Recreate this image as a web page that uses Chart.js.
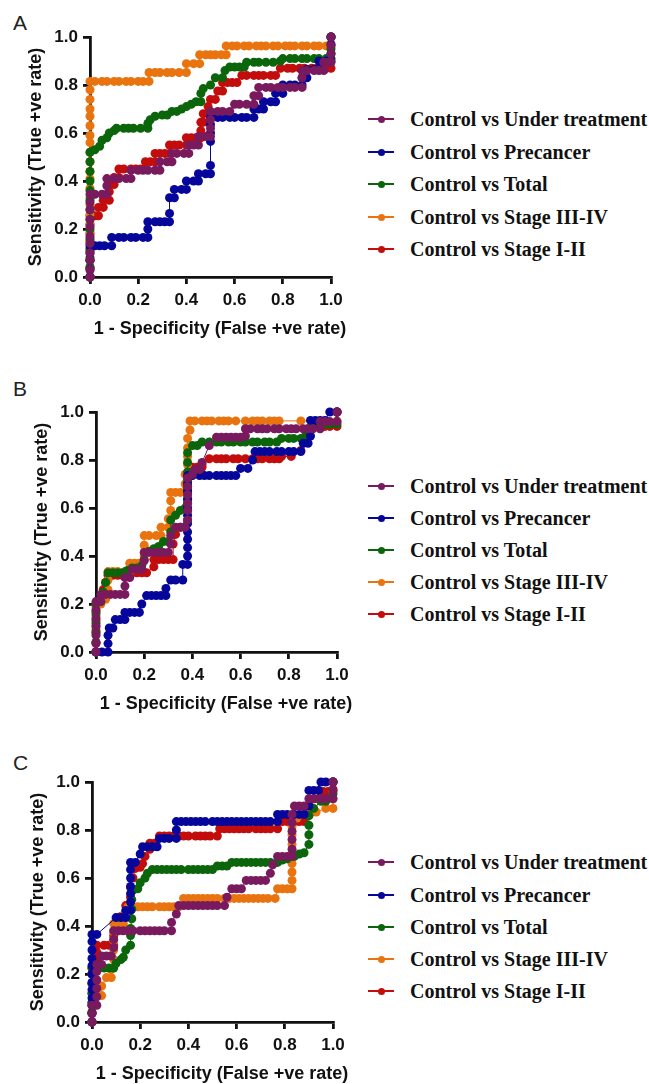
<!DOCTYPE html>
<html>
<head>
<meta charset="utf-8">
<script src="https://cdn.jsdelivr.net/npm/chart.js@4.4.0/dist/chart.umd.min.js"></script>
<style>
  html, body { margin: 0; padding: 0; background: #fff; }
  body { width: 649px; height: 1084px; position: relative; overflow: hidden; font-family: "Liberation Sans", Arial, sans-serif; }
  .panel { position: absolute; width: 345px; height: 320px; }
  .tag { position: absolute; font-size: 21px; color: #222; line-height: 1; }
  .xt, .yt { position: absolute; font-weight: bold; font-size: 18px; color: #111; white-space: nowrap; line-height: 1; }
  .xt { transform: translate(-50%, -50%); }
  .yt { transform: translate(-50%, -50%) rotate(-90deg); }
  .row { position: absolute; left: 368px; height: 24px; width: 280px; }
  .row .ln { position: absolute; left: 0; top: 11px; width: 26px; height: 1.5px; }
  .row .dt { position: absolute; left: 10px; top: 8.5px; width: 7px; height: 7px; border-radius: 50%; }
  .row .tx { position: absolute; left: 42px; top: 0; font-family: "Liberation Serif", "Times New Roman", serif; font-weight: bold; font-size: 20px; line-height: 24px; color: #111; white-space: nowrap; }
</style>
</head>
<body>

<div class="tag" style="left:13px;top:12px;">A</div>
<div class="tag" style="left:13px;top:378px;">B</div>
<div class="tag" style="left:13px;top:752px;">C</div>

<div class="panel" style="left:0px;top:0px;"><canvas id="chartA"></canvas></div>
<div class="panel" style="left:6px;top:375px;"><canvas id="chartB"></canvas></div>
<div class="panel" style="left:2px;top:745px;"><canvas id="chartC"></canvas></div>

<div class="yt" style="left:35px;top:157px;">Sensitivity (True +ve rate)</div>
<div class="xt" style="left:220px;top:328px;">1 - Specificity (False +ve rate)</div>
<div class="yt" style="left:41px;top:532px;">Sensitivity (True +ve rate)</div>
<div class="xt" style="left:226px;top:703px;">1 - Specificity (False +ve rate)</div>
<div class="yt" style="left:37px;top:902px;">Sensitivity (True +ve rate)</div>
<div class="xt" style="left:222px;top:1073px;">1 - Specificity (False +ve rate)</div>

<div id="legends"></div>

<script>
// nama seri dan warna (urutan sama dengan legenda)
const seriesNames = ['Control vs Under treatment', 'Control vs Precancer', 'Control vs Total', 'Control vs Stage III-IV', 'Control vs Stage I-II'];
const seriesColors = ['#7A1A5E', '#06069A', '#0B650B', '#E9740F', '#C30C0C'];
const axisTicks = [0, 0.2, 0.4, 0.6, 0.8, 1.0];

// ---- Panel A : [1 - specificity, sensitivity]
const underA = [[0,0],[0,0.03],[0,0.07],[0,0.1],[0,0.14],[0,0.17],[0,0.21],[0,0.24],[0,0.28],[0,0.31],[0,0.345],[0.02,0.345],[0.05,0.345],[0.07,0.345],[0.07,0.38],[0.07,0.41],[0.1,0.41],[0.12,0.41],[0.15,0.41],[0.17,0.41],[0.17,0.445],[0.2,0.445],[0.22,0.445],[0.24,0.445],[0.27,0.445],[0.29,0.445],[0.29,0.48],[0.32,0.48],[0.34,0.48],[0.34,0.515],[0.36,0.515],[0.39,0.515],[0.41,0.515],[0.41,0.55],[0.43,0.55],[0.45,0.55],[0.45,0.585],[0.48,0.585],[0.5,0.585],[0.5,0.62],[0.5,0.655],[0.5,0.69],[0.53,0.69],[0.55,0.69],[0.58,0.69],[0.6,0.72],[0.62,0.72],[0.65,0.72],[0.68,0.72],[0.68,0.755],[0.7,0.755],[0.7,0.79],[0.73,0.79],[0.75,0.79],[0.78,0.79],[0.8,0.79],[0.83,0.79],[0.85,0.79],[0.88,0.79],[0.88,0.83],[0.88,0.86],[0.9,0.86],[0.93,0.86],[0.95,0.86],[0.97,0.86],[0.97,0.895],[0.99,0.895],[1,0.895],[1,0.93],[1,0.965],[1,1]];
const preA = [[0,0],[0,0.03],[0,0.07],[0,0.1],[0,0.13],[0.02,0.13],[0.04,0.13],[0.06,0.13],[0.09,0.13],[0.09,0.165],[0.12,0.165],[0.14,0.165],[0.17,0.165],[0.19,0.165],[0.22,0.165],[0.24,0.165],[0.24,0.2],[0.24,0.23],[0.27,0.23],[0.29,0.23],[0.31,0.23],[0.33,0.23],[0.33,0.265],[0.33,0.33],[0.35,0.33],[0.35,0.365],[0.38,0.365],[0.4,0.365],[0.4,0.4],[0.43,0.4],[0.45,0.4],[0.45,0.43],[0.48,0.43],[0.5,0.43],[0.5,0.465],[0.5,0.565],[0.5,0.6],[0.5,0.635],[0.5,0.665],[0.53,0.665],[0.55,0.665],[0.58,0.665],[0.6,0.665],[0.63,0.665],[0.65,0.665],[0.68,0.665],[0.68,0.7],[0.7,0.7],[0.72,0.7],[0.72,0.73],[0.75,0.73],[0.77,0.73],[0.77,0.765],[0.8,0.765],[0.8,0.8],[0.83,0.8],[0.85,0.8],[0.88,0.8],[0.88,0.83],[0.9,0.83],[0.9,0.865],[0.93,0.865],[0.95,0.865],[0.95,0.9],[0.98,0.9],[1,0.9],[1,0.93],[1,0.97],[1,1]];
const totalA = [[0,0],[0,0.04],[0,0.08],[0,0.12],[0,0.16],[0,0.2],[0,0.24],[0,0.28],[0,0.32],[0,0.36],[0,0.4],[0,0.44],[0,0.48],[0,0.52],[0.02,0.53],[0.04,0.545],[0.05,0.57],[0.07,0.58],[0.08,0.6],[0.1,0.61],[0.11,0.62],[0.14,0.62],[0.16,0.62],[0.18,0.62],[0.21,0.62],[0.24,0.62],[0.24,0.64],[0.25,0.655],[0.27,0.67],[0.3,0.675],[0.32,0.675],[0.34,0.69],[0.36,0.69],[0.38,0.7],[0.4,0.71],[0.42,0.72],[0.44,0.73],[0.46,0.73],[0.46,0.765],[0.47,0.785],[0.5,0.8],[0.52,0.83],[0.55,0.83],[0.56,0.86],[0.58,0.875],[0.6,0.875],[0.62,0.875],[0.64,0.875],[0.65,0.895],[0.68,0.895],[0.7,0.895],[0.73,0.895],[0.76,0.895],[0.79,0.9],[0.8,0.91],[0.83,0.91],[0.85,0.91],[0.88,0.91],[0.9,0.91],[0.93,0.91],[0.95,0.91],[0.98,0.91],[1,0.91],[1,0.95],[1,1]];
const stage34A = [[0,0],[0,0.04],[0,0.07],[0,0.11],[0,0.15],[0,0.19],[0,0.22],[0,0.26],[0,0.3],[0,0.33],[0,0.37],[0,0.41],[0,0.44],[0,0.48],[0,0.52],[0,0.56],[0,0.59],[0,0.63],[0,0.67],[0,0.7],[0,0.74],[0,0.78],[0,0.815],[0.02,0.815],[0.05,0.815],[0.07,0.815],[0.1,0.815],[0.12,0.815],[0.15,0.815],[0.17,0.815],[0.2,0.815],[0.22,0.815],[0.245,0.815],[0.245,0.852],[0.27,0.852],[0.29,0.852],[0.32,0.852],[0.34,0.852],[0.37,0.852],[0.4,0.852],[0.4,0.889],[0.43,0.889],[0.455,0.889],[0.455,0.926],[0.48,0.926],[0.5,0.926],[0.52,0.926],[0.545,0.926],[0.565,0.926],[0.565,0.963],[0.59,0.963],[0.61,0.963],[0.64,0.963],[0.66,0.963],[0.69,0.963],[0.71,0.963],[0.73,0.963],[0.76,0.963],[0.78,0.963],[0.81,0.963],[0.83,0.963],[0.85,0.963],[0.88,0.963],[0.9,0.963],[0.93,0.963],[0.95,0.963],[0.98,0.963],[1,0.963],[1,1]];
const stage12A = [[0,0],[0,0.04],[0,0.07],[0,0.11],[0,0.15],[0,0.18],[0,0.22],[0,0.255],[0.02,0.255],[0.035,0.255],[0.035,0.29],[0.055,0.29],[0.055,0.32],[0.08,0.32],[0.08,0.355],[0.08,0.385],[0.1,0.385],[0.1,0.415],[0.12,0.415],[0.12,0.45],[0.14,0.45],[0.17,0.45],[0.19,0.45],[0.21,0.45],[0.23,0.45],[0.23,0.48],[0.25,0.48],[0.27,0.48],[0.27,0.515],[0.29,0.515],[0.31,0.515],[0.33,0.515],[0.33,0.55],[0.35,0.55],[0.37,0.55],[0.4,0.55],[0.4,0.58],[0.42,0.58],[0.44,0.58],[0.46,0.58],[0.46,0.61],[0.46,0.645],[0.47,0.645],[0.47,0.68],[0.49,0.71],[0.5,0.74],[0.52,0.74],[0.53,0.775],[0.55,0.775],[0.55,0.81],[0.57,0.81],[0.59,0.81],[0.61,0.81],[0.63,0.84],[0.65,0.84],[0.68,0.84],[0.7,0.84],[0.72,0.84],[0.75,0.84],[0.77,0.84],[0.79,0.87],[0.82,0.87],[0.84,0.87],[0.87,0.87],[0.89,0.87],[0.92,0.87],[0.94,0.87],[0.96,0.87],[0.98,0.87],[1,0.87],[1,1]];

// ---- Panel B
const underB = [[0,0],[0,0.035],[0,0.07],[0,0.105],[0,0.14],[0,0.175],[0,0.21],[0.02,0.21],[0.02,0.24],[0.04,0.24],[0.06,0.24],[0.08,0.24],[0.1,0.24],[0.12,0.24],[0.12,0.275],[0.12,0.31],[0.14,0.31],[0.15,0.345],[0.17,0.345],[0.19,0.345],[0.2,0.38],[0.2,0.415],[0.22,0.415],[0.24,0.415],[0.26,0.415],[0.28,0.415],[0.3,0.415],[0.31,0.45],[0.31,0.485],[0.33,0.52],[0.35,0.52],[0.37,0.52],[0.38,0.55],[0.38,0.59],[0.38,0.62],[0.38,0.655],[0.38,0.69],[0.38,0.725],[0.4,0.74],[0.41,0.76],[0.43,0.76],[0.44,0.79],[0.47,0.86],[0.5,0.895],[0.52,0.895],[0.54,0.895],[0.56,0.895],[0.58,0.895],[0.6,0.895],[0.62,0.9],[0.62,0.93],[0.64,0.93],[0.67,0.93],[0.69,0.93],[0.71,0.93],[0.74,0.93],[0.76,0.93],[0.79,0.93],[0.81,0.93],[0.83,0.93],[0.86,0.93],[0.88,0.93],[0.9,0.93],[0.93,0.93],[0.93,0.96],[0.95,0.96],[0.97,0.96],[1,0.96],[1,1]];
const preB = [[0,0],[0.025,0],[0.05,0],[0.05,0.035],[0.05,0.07],[0.055,0.1],[0.07,0.1],[0.08,0.135],[0.1,0.135],[0.12,0.135],[0.12,0.165],[0.14,0.165],[0.16,0.165],[0.18,0.165],[0.19,0.2],[0.21,0.235],[0.23,0.235],[0.25,0.235],[0.27,0.235],[0.29,0.235],[0.29,0.265],[0.31,0.3],[0.33,0.3],[0.36,0.3],[0.36,0.365],[0.38,0.365],[0.38,0.4],[0.38,0.435],[0.38,0.47],[0.38,0.5],[0.38,0.535],[0.38,0.57],[0.38,0.6],[0.38,0.635],[0.38,0.67],[0.38,0.7],[0.38,0.735],[0.4,0.735],[0.43,0.735],[0.45,0.735],[0.47,0.735],[0.5,0.735],[0.52,0.735],[0.54,0.735],[0.56,0.735],[0.58,0.735],[0.6,0.765],[0.63,0.765],[0.65,0.8],[0.66,0.835],[0.68,0.835],[0.7,0.835],[0.72,0.835],[0.75,0.835],[0.77,0.835],[0.8,0.835],[0.82,0.835],[0.85,0.835],[0.86,0.87],[0.88,0.87],[0.89,0.9],[0.89,0.965],[0.91,0.965],[0.93,0.965],[0.95,0.965],[0.97,1],[1,1]];
const totalB = [[0,0],[0,0.04],[0,0.08],[0,0.12],[0,0.16],[0,0.2],[0.02,0.21],[0.03,0.25],[0.04,0.29],[0.05,0.33],[0.07,0.33],[0.09,0.33],[0.11,0.33],[0.13,0.34],[0.15,0.35],[0.17,0.35],[0.19,0.36],[0.2,0.385],[0.22,0.42],[0.24,0.43],[0.26,0.44],[0.28,0.46],[0.3,0.46],[0.31,0.5],[0.31,0.55],[0.33,0.57],[0.35,0.59],[0.37,0.6],[0.38,0.64],[0.38,0.68],[0.38,0.71],[0.38,0.75],[0.38,0.79],[0.38,0.83],[0.4,0.86],[0.42,0.86],[0.44,0.875],[0.47,0.875],[0.5,0.875],[0.52,0.875],[0.55,0.875],[0.57,0.875],[0.6,0.875],[0.62,0.875],[0.65,0.875],[0.67,0.875],[0.7,0.875],[0.72,0.875],[0.75,0.875],[0.77,0.89],[0.8,0.89],[0.82,0.89],[0.85,0.89],[0.87,0.9],[0.88,0.93],[0.9,0.95],[0.93,0.95],[0.95,0.95],[0.97,0.95],[1,0.95],[1,1]];
const stage34B = [[0,0],[0,0.04],[0,0.08],[0,0.11],[0,0.15],[0,0.19],[0.02,0.2],[0.04,0.22],[0.05,0.26],[0.05,0.3],[0.05,0.335],[0.07,0.335],[0.09,0.335],[0.12,0.335],[0.14,0.335],[0.14,0.37],[0.16,0.37],[0.18,0.37],[0.2,0.4],[0.2,0.445],[0.2,0.485],[0.22,0.485],[0.25,0.485],[0.27,0.485],[0.27,0.52],[0.3,0.52],[0.3,0.555],[0.31,0.59],[0.31,0.63],[0.31,0.665],[0.33,0.665],[0.35,0.665],[0.37,0.665],[0.37,0.7],[0.37,0.74],[0.38,0.78],[0.38,0.815],[0.38,0.85],[0.38,0.89],[0.39,0.925],[0.39,0.963],[0.41,0.963],[0.44,0.963],[0.46,0.963],[0.48,0.963],[0.51,0.963],[0.53,0.963],[0.55,0.963],[0.58,0.963],[0.62,0.963],[0.65,0.963],[0.67,0.963],[0.69,0.963],[0.72,0.963],[0.74,0.963],[0.76,0.963],[0.85,0.963],[1,0.963],[1,1]];
const stage12B = [[0,0],[0,0.04],[0,0.09],[0,0.13],[0,0.17],[0.02,0.21],[0.03,0.26],[0.04,0.29],[0.05,0.32],[0.07,0.32],[0.09,0.32],[0.11,0.32],[0.13,0.33],[0.15,0.33],[0.17,0.33],[0.19,0.33],[0.21,0.33],[0.24,0.355],[0.24,0.385],[0.26,0.385],[0.28,0.385],[0.3,0.385],[0.32,0.385],[0.32,0.45],[0.33,0.49],[0.35,0.52],[0.37,0.52],[0.38,0.55],[0.38,0.59],[0.38,0.62],[0.38,0.66],[0.38,0.69],[0.38,0.72],[0.4,0.77],[0.42,0.77],[0.44,0.77],[0.44,0.78],[0.47,0.805],[0.5,0.805],[0.52,0.805],[0.54,0.805],[0.57,0.805],[0.59,0.805],[0.62,0.805],[0.65,0.805],[0.67,0.805],[0.69,0.805],[0.72,0.805],[0.74,0.805],[0.76,0.805],[0.77,0.815],[0.81,0.815],[0.85,0.84],[0.87,0.9],[0.89,0.935],[0.91,0.94],[0.93,0.94],[0.95,0.94],[0.97,0.94],[1,0.94],[1,1]];

// ---- Panel C
const underC = [[0,0],[0,0.035],[0,0.07],[0.02,0.07],[0.02,0.105],[0.02,0.14],[0.02,0.175],[0.02,0.21],[0.02,0.24],[0.04,0.24],[0.04,0.275],[0.06,0.275],[0.08,0.275],[0.09,0.31],[0.09,0.345],[0.09,0.38],[0.11,0.38],[0.13,0.38],[0.15,0.38],[0.17,0.38],[0.2,0.38],[0.22,0.38],[0.24,0.38],[0.26,0.38],[0.28,0.38],[0.3,0.38],[0.33,0.38],[0.33,0.415],[0.35,0.45],[0.36,0.485],[0.38,0.485],[0.4,0.485],[0.42,0.485],[0.44,0.485],[0.46,0.485],[0.48,0.485],[0.5,0.485],[0.52,0.485],[0.55,0.485],[0.56,0.52],[0.58,0.555],[0.6,0.555],[0.62,0.555],[0.64,0.59],[0.66,0.59],[0.68,0.59],[0.7,0.59],[0.72,0.59],[0.74,0.62],[0.75,0.655],[0.77,0.69],[0.79,0.69],[0.81,0.69],[0.83,0.69],[0.83,0.72],[0.83,0.76],[0.83,0.795],[0.83,0.83],[0.83,0.865],[0.84,0.9],[0.86,0.9],[0.88,0.9],[0.9,0.93],[0.92,0.93],[0.95,0.93],[0.97,0.93],[1,0.93],[1,0.965],[1,1]];
const preC = [[0,0],[0,0.035],[0,0.07],[0,0.1],[0,0.135],[0,0.165],[0,0.2],[0,0.235],[0,0.265],[0,0.3],[0,0.335],[0,0.365],[0.02,0.365],[0.1,0.435],[0.12,0.435],[0.14,0.435],[0.14,0.465],[0.16,0.465],[0.16,0.5],[0.16,0.535],[0.16,0.565],[0.16,0.6],[0.16,0.635],[0.16,0.665],[0.18,0.665],[0.2,0.7],[0.21,0.73],[0.23,0.73],[0.25,0.73],[0.27,0.73],[0.28,0.765],[0.3,0.765],[0.32,0.765],[0.35,0.765],[0.35,0.8],[0.35,0.835],[0.37,0.835],[0.39,0.835],[0.41,0.835],[0.43,0.835],[0.45,0.835],[0.47,0.835],[0.5,0.835],[0.52,0.835],[0.54,0.835],[0.56,0.835],[0.58,0.835],[0.6,0.835],[0.62,0.835],[0.64,0.835],[0.66,0.835],[0.68,0.835],[0.7,0.835],[0.72,0.835],[0.74,0.835],[0.77,0.835],[0.77,0.865],[0.79,0.865],[0.81,0.865],[0.84,0.865],[0.86,0.865],[0.88,0.865],[0.9,0.9],[0.9,0.965],[0.92,0.965],[0.94,0.965],[0.95,1],[0.97,1],[1,1]];
const totalC = [[0,0],[0,0.04],[0,0.08],[0,0.12],[0,0.16],[0,0.2],[0,0.225],[0.02,0.225],[0.05,0.225],[0.07,0.225],[0.09,0.225],[0.1,0.245],[0.12,0.26],[0.13,0.27],[0.14,0.3],[0.16,0.32],[0.16,0.36],[0.16,0.39],[0.165,0.43],[0.165,0.47],[0.165,0.51],[0.17,0.55],[0.19,0.555],[0.2,0.58],[0.22,0.6],[0.23,0.62],[0.25,0.635],[0.27,0.635],[0.29,0.635],[0.31,0.635],[0.33,0.635],[0.35,0.635],[0.37,0.635],[0.4,0.635],[0.42,0.635],[0.44,0.635],[0.46,0.635],[0.48,0.635],[0.5,0.635],[0.52,0.65],[0.54,0.65],[0.56,0.65],[0.58,0.665],[0.6,0.665],[0.62,0.665],[0.64,0.665],[0.66,0.665],[0.68,0.665],[0.7,0.665],[0.72,0.665],[0.74,0.665],[0.77,0.665],[0.79,0.675],[0.81,0.68],[0.84,0.69],[0.86,0.7],[0.88,0.705],[0.9,0.74],[0.9,0.78],[0.9,0.82],[0.9,0.86],[0.92,0.89],[0.95,0.92],[0.97,0.92],[1,0.95],[1,1]];
const stage34C = [[0,0],[0,0.04],[0,0.07],[0.02,0.11],[0.04,0.11],[0.04,0.15],[0.06,0.185],[0.08,0.185],[0.08,0.22],[0.09,0.26],[0.09,0.3],[0.09,0.34],[0.09,0.375],[0.09,0.41],[0.11,0.41],[0.13,0.41],[0.13,0.445],[0.15,0.48],[0.17,0.48],[0.19,0.48],[0.21,0.48],[0.23,0.48],[0.25,0.48],[0.28,0.48],[0.3,0.48],[0.32,0.48],[0.34,0.48],[0.36,0.48],[0.38,0.515],[0.4,0.515],[0.42,0.515],[0.44,0.515],[0.46,0.515],[0.48,0.515],[0.5,0.515],[0.52,0.515],[0.55,0.515],[0.57,0.515],[0.59,0.515],[0.61,0.515],[0.63,0.515],[0.65,0.515],[0.67,0.515],[0.69,0.515],[0.71,0.515],[0.73,0.515],[0.76,0.515],[0.77,0.555],[0.79,0.555],[0.81,0.555],[0.83,0.555],[0.83,0.59],[0.83,0.625],[0.83,0.66],[0.83,0.7],[0.83,0.74],[0.83,0.78],[0.83,0.815],[0.85,0.85],[0.88,0.875],[0.9,0.875],[0.93,0.875],[0.97,0.89],[1,0.89],[1,0.93],[1,0.96],[1,1]];
const stage12C = [[0,0],[0,0.04],[0,0.08],[0,0.12],[0,0.16],[0,0.2],[0,0.225],[0.02,0.26],[0.02,0.29],[0.02,0.32],[0.05,0.32],[0.07,0.32],[0.09,0.32],[0.09,0.36],[0.1,0.4],[0.12,0.44],[0.14,0.485],[0.16,0.485],[0.16,0.52],[0.16,0.56],[0.17,0.6],[0.18,0.64],[0.2,0.645],[0.21,0.66],[0.22,0.69],[0.24,0.72],[0.24,0.745],[0.26,0.745],[0.28,0.775],[0.3,0.775],[0.32,0.775],[0.34,0.775],[0.36,0.775],[0.38,0.775],[0.4,0.775],[0.43,0.775],[0.45,0.775],[0.47,0.775],[0.49,0.775],[0.52,0.775],[0.53,0.805],[0.55,0.805],[0.57,0.805],[0.59,0.805],[0.61,0.805],[0.63,0.805],[0.65,0.805],[0.68,0.805],[0.7,0.805],[0.72,0.805],[0.74,0.805],[0.77,0.805],[0.79,0.835],[0.81,0.835],[0.84,0.835],[0.86,0.835],[0.88,0.835],[0.9,0.86],[0.92,0.93],[0.94,0.93],[0.96,0.96],[0.98,0.96],[1,0.97],[1,1]];

// posisi legenda (pusat baris, px)
const legendRowsA = [119, 152, 184, 217, 249];
const legendRowsB = [486, 518, 550, 582, 614];
const legendRowsC = [862, 895, 927, 959, 991];

const tickFont = { family: '"Liberation Sans", Arial, sans-serif', size: 17, weight: 'bold' };

function buildLegend(rows) {
    const host = document.getElementById('legends');
    rows.forEach((cy, i) => {
        const row = document.createElement('div');
        row.className = 'row';
        row.style.top = (cy - 12) + 'px';
        row.innerHTML = `<span class="ln" style="background:${seriesColors[i]}"></span>` +
            `<span class="dt" style="background:${seriesColors[i]}"></span>` +
            `<span class="tx">${seriesNames[i]}</span>`;
        host.appendChild(row);
    });
}

function drawPanel(canvasId, series) {
    const ctx = document.getElementById(canvasId).getContext('2d');
    return new Chart(ctx, {
        type: 'line',
        data: {
            datasets: series.map((pts, i) => ({
                label: seriesNames[i],
                data: pts,
                borderColor: seriesColors[i],
                backgroundColor: seriesColors[i],
                pointBackgroundColor: seriesColors[i],
                borderWidth: 1,
                pointRadius: 4.5,
                pointBorderWidth: 0,
                pointHoverRadius: 4.5,
                tension: 0,
                clip: 8
            }))
        },
        options: {
            responsive: true,
            maintainAspectRatio: false,
            animation: false,
            layout: { padding: { left: 0, top: 37, right: 14, bottom: 0 } },
            plugins: { legend: { display: false }, tooltip: { enabled: false } },
            scales: {
                x: {
                    type: 'linear', min: 0, max: 1,
                    afterBuildTicks: s => { s.ticks = axisTicks.map(v => ({ value: v })); },
                    ticks: { callback: v => v.toFixed(1), font: tickFont, color: '#111', padding: 6, maxRotation: 0 },
                    grid: { drawOnChartArea: false, tickLength: 7, lineWidth: 2.8, color: '#111' },
                    border: { color: '#111', width: 2.8 },
                    afterFit: s => { s.height = 43; s.paddingLeft = 0; s.paddingRight = 0; }
                },
                y: {
                    type: 'linear', min: 0, max: 1,
                    afterBuildTicks: s => { s.ticks = axisTicks.map(v => ({ value: v })); },
                    ticks: { callback: v => v.toFixed(1), font: tickFont, color: '#111', padding: 5 },
                    grid: { drawOnChartArea: false, tickLength: 7, lineWidth: 2.8, color: '#111' },
                    border: { color: '#111', width: 2.8 },
                    afterFit: s => { s.width = 90; s.paddingTop = 0; s.paddingBottom = 0; }
                }
            }
        }
    });
}

drawPanel('chartA', [underA, preA, totalA, stage34A, stage12A]);
drawPanel('chartB', [underB, preB, totalB, stage34B, stage12B]);
drawPanel('chartC', [underC, preC, totalC, stage34C, stage12C]);
buildLegend(legendRowsA);
buildLegend(legendRowsB);
buildLegend(legendRowsC);
</script>
</body>
</html>
